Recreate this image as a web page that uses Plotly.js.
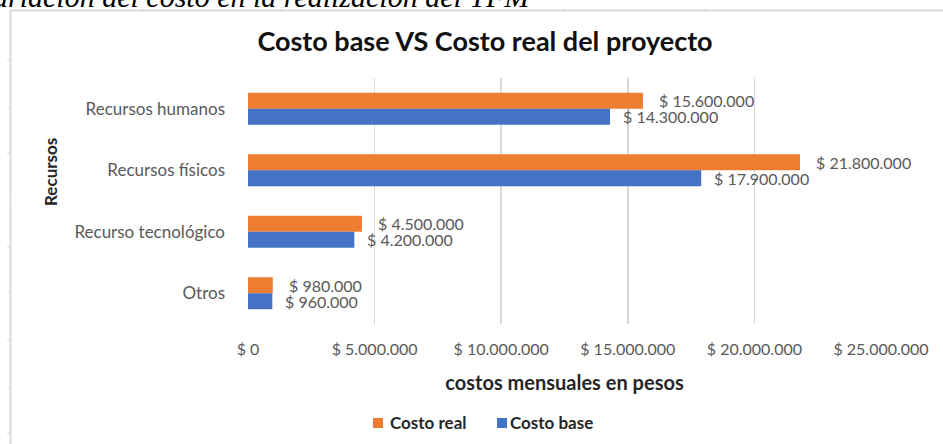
<!DOCTYPE html>
<html>
<head>
<meta charset="utf-8">
<script src="https://cdn.plot.ly/plotly-3.0.1.min.js"></script>
<style>
  html, body { margin: 0; padding: 0; background: #fff; }
  #chart { width: 943px; height: 444px; }
</style>
</head>
<body>
<div id="chart"></div>
<script>
// Resources compared, top to bottom
const categorias = ['Recursos humanos', 'Recursos físicos', 'Recurso tecnológico', 'Otros'];
// Monthly costs in Colombian pesos
const costoReal = [15600000, 21800000, 4500000, 980000];
const costoBase = [14300000, 17900000, 4200000, 960000];
// Value axis ticks
const ticksX = [0, 5000000, 10000000, 15000000, 20000000, 25000000];
const etiquetasX = ['$ 0', '$ 5.000.000', '$ 10.000.000', '$ 15.000.000', '$ 20.000.000', '$ 25.000.000'];

const W = 943, H = 444;
const M = { l: 248, r: 62, t: 78, b: 120 };
const PW = W - M.l - M.r, PH = H - M.t - M.b;
const px = x => (x - M.l) / PW;          // pixel -> paper x
const py = y => (H - M.b - y) / PH;      // pixel -> paper y

const pesos = v => '$ ' + String(v).replace(/\B(?=(\d{3})+(?!\d))/g, '.');

const NARANJA = '#ED7D31', AZUL = '#4472C4';
const FUENTE = 'Lato, "Open Sans", sans-serif';
const GRIS = '#595959';
const OSCURO = '#262626';

const series = [
  { name: 'Costo real', values: costoReal, color: NARANJA, xshift: 14, yshift: 8 },
  { name: 'Costo base', values: costoBase, color: AZUL, xshift: 11, yshift: -8 }
];

const traces = series.map(s => ({
  type: 'bar', orientation: 'h', name: s.name, y: categorias, x: s.values,
  marker: { color: s.color }, hoverinfo: 'skip'
}));

const annotations = [];
// Data labels placed just past the end of each bar
series.forEach(s => categorias.forEach((c, i) => annotations.push({
  x: s.values[i], y: c, xref: 'x', yref: 'y', text: pesos(s.values[i]),
  showarrow: false, xanchor: 'left', yanchor: 'middle', xshift: s.xshift, yshift: s.yshift,
  font: { family: FUENTE, size: 16, color: GRIS }
})));

// Vertical axis title
annotations.push({ xref: 'paper', yref: 'paper', x: px(50), y: py(172), text: '<b>Recursos</b>',
  textangle: -90, showarrow: false, xanchor: 'center', yanchor: 'middle',
  font: { family: FUENTE, size: 17, color: OSCURO } });

// Caption line running above the chart frame
annotations.push({ xref: 'paper', yref: 'paper', x: px(533), y: py(-4), text: 'Variación del costo en la realización del TFM',
  showarrow: false, xanchor: 'right', yanchor: 'middle',
  font: { family: '"Liberation Serif", serif', size: 30, color: '#000', style: 'italic' } });

// Chart frame with its small edge marks
const LINEA = '#d9d9d9';
const shapes = [
  { type: 'line', xref: 'paper', yref: 'paper', x0: px(10), x1: px(943), y0: py(10.5), y1: py(10.5), line: { color: LINEA, width: 2 } },
  { type: 'line', xref: 'paper', yref: 'paper', x0: px(10.5), x1: px(10.5), y0: py(10), y1: py(444), line: { color: LINEA, width: 2 } }
];
[60, 107, 153, 200, 247, 293, 340, 387, 433].forEach(y => shapes.push(
  { type: 'line', xref: 'paper', yref: 'paper', x0: px(7), x1: px(10), y0: py(y), y1: py(y), line: { color: LINEA, width: 1 } }));
[142, 282, 424, 564, 706, 848].forEach(x => shapes.push(
  { type: 'line', xref: 'paper', yref: 'paper', x0: px(x), x1: px(x), y0: py(7), y1: py(10), line: { color: LINEA, width: 1 } }));

// Legend below the axis title: swatch + series name
const leyenda = [{ sx: 373, tx: 388 }, { sx: 497, tx: 508 }];
series.forEach((s, k) => {
  const L = leyenda[k];
  shapes.push({ type: 'rect', xref: 'paper', yref: 'paper', x0: px(L.sx), x1: px(L.sx + 10),
    y0: py(428), y1: py(418), fillcolor: s.color, line: { width: 0 } });
  annotations.push({ xref: 'paper', yref: 'paper', x: px(L.tx), y: py(422), text: '<b>' + s.name + '</b>',
    showarrow: false, xanchor: 'left', yanchor: 'middle',
    font: { family: FUENTE, size: 17, color: OSCURO } });
});

const layout = {
  width: W, height: H,
  margin: M,
  paper_bgcolor: '#fff', plot_bgcolor: '#fff',
  title: { text: '<b>Costo base VS Costo real del proyecto</b>', x: 485 / W, xanchor: 'center',
    y: 1 - 42 / H, yanchor: 'middle', yref: 'container',
    font: { family: FUENTE, size: 27, color: '#111' } },
  barmode: 'group', bargap: 0.48, bargroupgap: 0,
  xaxis: {
    range: [0, 25000000], tickvals: ticksX, ticktext: etiquetasX,
    showgrid: true, gridcolor: LINEA, gridwidth: 1.5, zeroline: false, showline: false,
    ticks: '', ticklabelstandoff: 14,
    tickfont: { family: FUENTE, size: 16, color: GRIS },
    title: { text: '<b>costos mensuales en pesos</b>', standoff: 18,
      font: { family: FUENTE, size: 20, color: OSCURO } },
    fixedrange: true
  },
  yaxis: {
    type: 'category', autorange: 'reversed', showgrid: false, zeroline: false, showline: false,
    ticks: '', ticklabelstandoff: 22,
    tickfont: { family: FUENTE, size: 17, color: GRIS },
    fixedrange: true
  },
  showlegend: false,
  annotations: annotations,
  shapes: shapes
};

Plotly.newPlot('chart', traces, layout, { displayModeBar: false, staticPlot: true });
</script>
</body>
</html>
